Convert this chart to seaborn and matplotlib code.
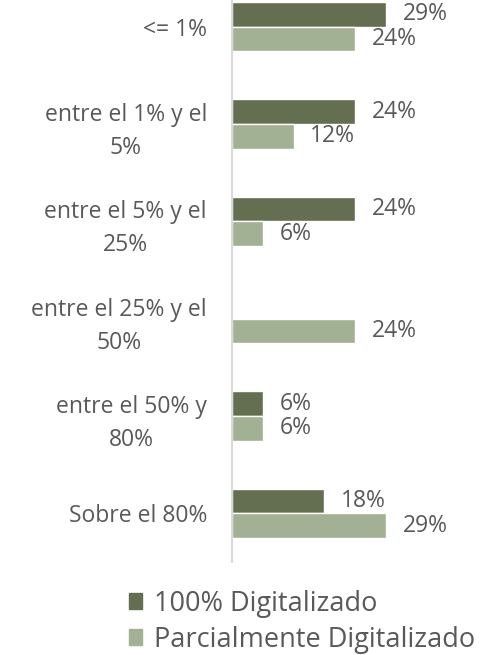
import pandas as pd
import numpy as np
import matplotlib
matplotlib.use("Agg")
import matplotlib.pyplot as plt
import seaborn as sns

# Data (shares of 17 answers)
categorias = ["<= 1%", "entre el 1% y el\n5%", "entre el 5% y el\n25%",
              "entre el 25% y el\n50%", "entre el 50% y\n80%", "Sobre el 80%"]
digitalizado_100 = [29.4, 23.5, 23.5, 0.0, 5.9, 17.6]
parcialmente = [23.5, 11.8, 5.9, 23.5, 5.9, 29.4]
series = ["100% Digitalizado", "Parcialmente Digitalizado"]
colores = ["#636f50", "#a2b093"]

df = pd.DataFrame({
    "categoria": categorias * 2,
    "serie": [series[0]] * 6 + [series[1]] * 6,
    "valor": digitalizado_100 + parcialmente,
})

sns.set_style("white")
plt.rcParams["font.family"] = ["Open Sans", "DejaVu Sans"]
gris = "#595959"

fig = plt.figure(figsize=(4.88, 6.55), dpi=100)
ax = fig.add_axes([232 / 488, 93 / 655, 251 / 488, 0.8916])

sns.barplot(data=df, y="categoria", x="valor", hue="serie", order=categorias,
            hue_order=series, palette=colores, width=0.51, ax=ax,
            legend=False, saturation=1)

for cont in ax.containers:
    labels = [f"{b.get_width():.0f}%" if b.get_width() > 0 else "" for b in cont]
    ax.bar_label(cont, labels=labels, padding=12, fontsize=16.5, color=gris)

ax.set_xlim(0, 48)
ax.set_xlabel("")
ax.set_ylabel("")
ax.set_xticks([])
ax.tick_params(axis="y", length=0, pad=18, labelsize=16.5, labelcolor=gris)
for t in ax.get_yticklabels():
    t.set_multialignment("center")
    t.set_linespacing(1.5)
for s in ["top", "right", "bottom"]:
    ax.spines[s].set_visible(False)
ax.spines["left"].set_color("#d9d9d9")
ax.spines["left"].set_linewidth(1.5)

handles = [plt.Rectangle((0, 0), 1, 1, color=c) for c in colores]
fig.legend(handles, series, loc="upper left", bbox_to_anchor=(115 / 488, 1 - 576 / 655),
           frameon=False, fontsize=19.5, labelcolor=gris, handlelength=0.5,
           handleheight=0.5, handletextpad=0.45, labelspacing=0.3, borderpad=0)

fig.savefig("out.png", dpi=100)
